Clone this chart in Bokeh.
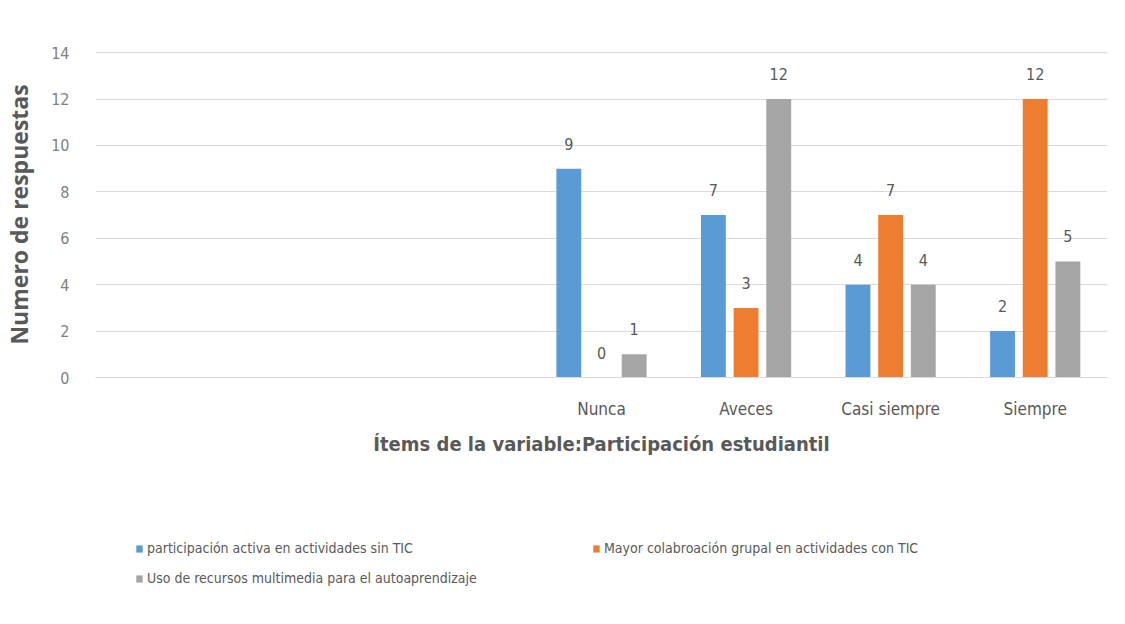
from bokeh.plotting import figure
from bokeh.models import ColumnDataSource, Legend, LegendItem, FactorRange, Range1d
from bokeh.layouts import column
from bokeh.transform import dodge
from bokeh.core.properties import value
from bokeh.embed import file_html
from bokeh.resources import INLINE

# ---- data ----
blank_slots = [" ", "  ", "   "]          # empty categories at the left of the axis
categories = ["Nunca", "Aveces", "Casi siempre", "Siempre"]
series_names = [
    "participación activa en actividades sin TIC",
    "Mayor colabroación grupal en actividades con TIC",
    "Uso de recursos multimedia para el autoaprendizaje",
]
activa = [9, 7, 4, 2]
colaboracion = [0, 3, 7, 12]
multimedia = [1, 12, 4, 5]
y_ticks = [0, 2, 4, 6, 8, 10, 12, 14]

colors = ["#5B9BD5", "#ED7D31", "#A5A5A5"]
NARROW = "'Liberation Sans Narrow', 'DejaVu Sans Condensed', 'Open Sans', sans-serif"

src = ColumnDataSource(dict(cat=categories, a=activa, b=colaboracion, c=multimedia,
                            la=[str(v) for v in activa],
                            lb=[str(v) for v in colaboracion],
                            lc=[str(v) for v in multimedia]))

p = figure(x_range=FactorRange(*(blank_slots + categories), range_padding=0),
           y_range=Range1d(0, 14.05), width=1109, height=490,
           output_backend="svg", toolbar_location=None,
           min_border_left=90, min_border_right=2, min_border_top=51,
           min_border_bottom=113)
p.outline_line_color = None
p.background_fill_color = "white"
p.border_fill_color = "white"

for col, lab, off, color in [("a", "la", -0.226, colors[0]),
                             ("b", "lb", 0.0, colors[1]),
                             ("c", "lc", 0.226, colors[2])]:
    p.vbar(x=dodge("cat", off, range=p.x_range), top=col, width=0.172,
           source=src, fill_color=color, line_color=None)
    p.text(x=dodge("cat", off, range=p.x_range), y=col, text=lab, source=src,
           text_align="center", text_baseline="bottom", y_offset=-19,
           text_font_size="16px", text_color="#595959",
           text_font=value(NARROW))

# axes
p.yaxis.ticker = y_ticks
p.yaxis.axis_line_color = None
p.yaxis.major_tick_line_color = None
p.yaxis.minor_tick_line_color = None
p.yaxis.major_label_text_color = "#808080"
p.yaxis.major_label_text_font_size = "16px"
p.yaxis.major_label_text_font = NARROW
p.yaxis.major_label_standoff = 20
p.yaxis.axis_label = "Numero de respuestas"
p.yaxis.axis_label_text_font = "Open Sans"
p.yaxis.axis_label_text_font_style = "bold"
p.yaxis.axis_label_text_font_size = "23px"
p.yaxis.axis_label_text_color = "#595959"
p.yaxis.axis_label_standoff = 13

p.xaxis.axis_line_color = "#D9D9D9"
p.xaxis.major_tick_line_color = None
p.xaxis.minor_tick_line_color = None
p.xaxis.major_label_text_color = "#595959"
p.xaxis.major_label_text_font_size = "17px"
p.xaxis.major_label_text_font = NARROW
p.xaxis.major_label_standoff = 15
p.xaxis.axis_label = "Ítems de la variable:Participación estudiantil"
p.xaxis.axis_label_text_font = NARROW
p.xaxis.axis_label_text_font_style = "bold"
p.xaxis.axis_label_text_font_size = "20px"
p.xaxis.axis_label_text_color = "#595959"
p.xaxis.axis_label_standoff = 10

p.xgrid.grid_line_color = None
p.ygrid.grid_line_color = "#D9D9D9"

# ---- legend strip under the chart (its frame is aligned with the chart's frame) ----
q = figure(width=1109, height=118, x_range=Range1d(100, 101), y_range=Range1d(100, 101),
           output_backend="svg", toolbar_location=None,
           x_axis_type=None, y_axis_type=None,
           min_border_left=0, min_border_right=0, min_border_top=0,
           min_border_bottom=0)
q.outline_line_color = None
q.xgrid.grid_line_color = None
q.ygrid.grid_line_color = None
q.border_fill_color = "white"
# legend keys: the same series, outside this strip's visible range
keys = [q.vbar(x=c, top=c, width=0.1, source=src, fill_color=colr, line_color=None)
        for c, colr in zip(["a", "b", "c"], colors)]

def make_legend(items, loc):
    return Legend(items=items, location=loc, orientation="vertical",
                  padding=0, margin=0, spacing=10, label_height=20,
                  glyph_height=9, glyph_width=8, label_standoff=4,
                  label_text_font=NARROW, label_text_font_size="14px",
                  label_text_color="#595959", border_line_color=None,
                  background_fill_alpha=0)

leg1 = make_legend([LegendItem(label=series_names[0], renderers=[keys[0]]),
                    LegendItem(label=series_names[2], renderers=[keys[2]])],
                   (40, 20))
leg2 = make_legend([LegendItem(label=series_names[1], renderers=[keys[1]])],
                   (497, 50))
q.add_layout(leg1)
q.add_layout(leg2)

page = column(p, q, spacing=0)
open("out.html", "w").write(file_html(page, INLINE))
